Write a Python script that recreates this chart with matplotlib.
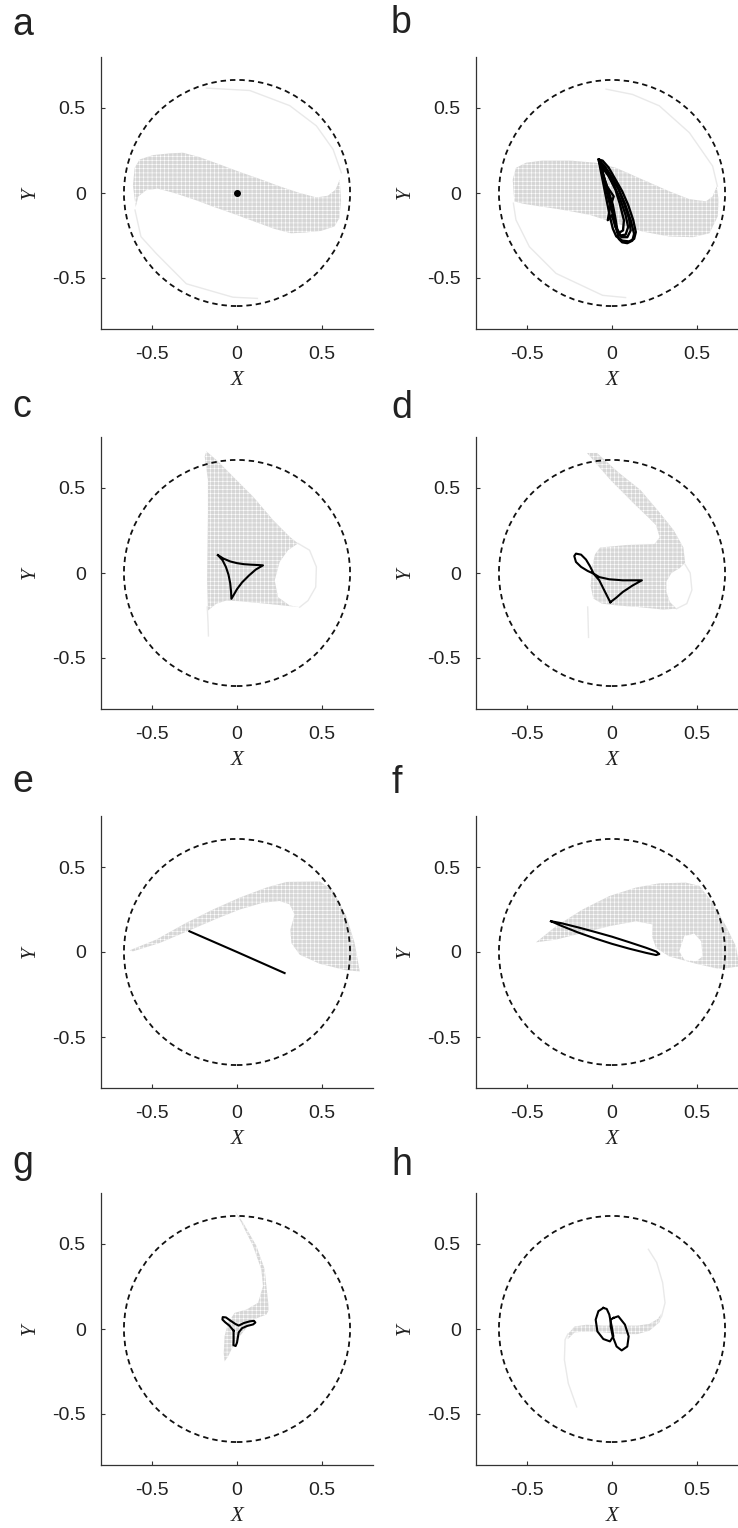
import matplotlib.pyplot as plt
from matplotlib.patches import Circle

plt.rcParams['font.family'] = 'Liberation Sans'
plt.rcParams['axes.unicode_minus'] = False
plt.rcParams['hatch.linewidth'] = 0.4

figsize = (7.38, 15.28)
dpi = 100

GRAY = '#d6d6d6'
FAINT = '#e9e9e9'
TEXT = '#222222'

# common axis settings
lims = (-0.8, 0.8)
tick_vals = [-0.5, 0, 0.5]
tick_labels = ['-0.5', '0', '0.5']
circle_r = 0.665

# ---- panel a: S-shaped basin, fixed point at origin
a_region_x = [-0.596, -0.612, -0.602, -0.573, -0.494, -0.396, -0.318, -0.22, -0.102, 0.016, 0.133, 0.251,
              0.369, 0.467, 0.535, 0.580, 0.604, 0.612, 0.602, 0.573, 0.494, 0.396, 0.318, 0.22, 0.102,
              -0.016, -0.133, -0.251, -0.369, -0.467, -0.535, -0.580]
a_region_y = [-0.083, 0.045, 0.148, 0.197, 0.223, 0.233, 0.237, 0.211, 0.168, 0.124, 0.083, 0.039,
              0.0, -0.026, -0.016, 0.020, 0.079, -0.045, -0.148, -0.197, -0.223, -0.233, -0.237, -0.211, -0.168,
              -0.124, -0.083, -0.039, 0.0, 0.026, 0.016, -0.020]
a_arc1_x = [-0.18, 0.075, 0.31, 0.467, 0.565, 0.614]
a_arc1_y = [0.617, 0.603, 0.514, 0.395, 0.257, 0.119]
a_arc2_x = [-0.60, -0.565, -0.475, -0.298, -0.024, 0.12]
a_arc2_y = [-0.10, -0.257, -0.356, -0.534, -0.613, -0.62]
a_point_x = [0.0]
a_point_y = [0.0]

# ---- panel b: S-shaped basin, chaotic attractor
b_region_x = [-0.575, -0.584, -0.565, -0.506, -0.408, -0.251, -0.094, 0.024, 0.18, 0.337, 0.455, 0.553, 0.592,
              0.616, 0.627, 0.622, 0.573, 0.475, 0.337, 0.18, 0.024, -0.133, -0.29, -0.447, -0.525]
b_region_y = [-0.049, 0.079, 0.148, 0.178, 0.191, 0.191, 0.178, 0.148, 0.079, 0.01, -0.036, -0.049, -0.02,
              0.039, -0.039, -0.138, -0.237, -0.26, -0.256, -0.227, -0.178, -0.128, -0.099, -0.075, -0.063]
b_arc1_x = [-0.035, 0.12, 0.278, 0.455, 0.592, 0.62]
b_arc1_y = [0.611, 0.58, 0.513, 0.355, 0.158, 0.04]
b_arc2_x = [-0.58, -0.565, -0.486, -0.329, -0.055, 0.08]
b_arc2_y = [-0.06, -0.158, -0.316, -0.473, -0.602, -0.615]
b_loop1_x = [-0.078, -0.055, -0.02, 0.02, 0.06, 0.095, 0.125, 0.14, 0.13, 0.1, 0.06, 0.025, 0.005, -0.012, -0.03,
             -0.05, -0.068, -0.078]
b_loop1_y = [0.197, 0.19, 0.15, 0.08, 0.01, -0.07, -0.16, -0.23, -0.27, -0.285, -0.28, -0.255, -0.21, -0.14, -0.05,
             0.05, 0.14, 0.197]
b_loop2_x = [-0.075, -0.04, 0.0, 0.04, 0.07, 0.1, 0.11, 0.09, 0.055, 0.03, 0.015, 0.0, -0.025, -0.045, -0.065, -0.075]
b_loop2_y = [0.185, 0.15, 0.09, 0.02, -0.06, -0.15, -0.22, -0.26, -0.26, -0.23, -0.17, -0.09, 0.0, 0.08, 0.15, 0.185]
b_loop3_x = [-0.07, -0.03, 0.01, 0.05, 0.08, 0.095, 0.08, 0.05, 0.03, 0.02, 0.005, -0.02, -0.04, -0.055, -0.07]
b_loop3_y = [0.17, 0.12, 0.05, -0.04, -0.13, -0.2, -0.245, -0.25, -0.21, -0.15, -0.07, 0.01, 0.07, 0.12, 0.17]
b_loop4_x = [-0.065, -0.02, 0.02, 0.045, 0.07, 0.065, 0.04, 0.02, 0.0, -0.025, -0.01, 0.01, -0.03, -0.05, -0.065]
b_loop4_y = [0.16, 0.1, 0.02, -0.06, -0.16, -0.22, -0.235, -0.2, -0.13, -0.16, -0.08, -0.02, 0.04, 0.1, 0.16]
b_loop5_x = [-0.072, -0.045, -0.005, 0.035, 0.075, 0.11, 0.13, 0.12, 0.09, 0.06, 0.04, 0.03, 0.01, -0.02, -0.045,
             -0.072]
b_loop5_y = [0.19, 0.16, 0.1, 0.03, -0.06, -0.16, -0.24, -0.28, -0.295, -0.29, -0.27, -0.22, -0.14, -0.04, 0.07,
             0.19]

# ---- panel c: fan-shaped basin, deltoid orbit
c_region_x = [-0.18, -0.112, -0.024, 0.094, 0.212, 0.31, 0.359, 0.3, 0.251, 0.222, 0.241, 0.31, 0.369, 0.173,
              0.016, -0.063, -0.122, -0.171, -0.176, -0.171, -0.171, -0.19]
c_region_y = [0.716, 0.657, 0.568, 0.45, 0.312, 0.213, 0.174, 0.134, 0.065, -0.043, -0.142, -0.191, -0.201, -0.181,
              -0.166, -0.162, -0.181, -0.221, -0.043, 0.351, 0.548, 0.686]
c_rim_x = [0.359, 0.427, 0.467, 0.463, 0.418, 0.369]
c_rim_y = [0.174, 0.134, 0.036, -0.083, -0.162, -0.201]
c_stub_x = [-0.175, -0.17, -0.168]
c_stub_y = [-0.2, -0.3, -0.37]
c_orbit_x = [-0.112, -0.08, -0.04, 0.0, 0.04, 0.08, 0.12, 0.153, 0.11, 0.07, 0.03, 0.0, -0.02, -0.033,
             -0.035, -0.04, -0.05, -0.065, -0.085, -0.112]
c_orbit_y = [0.105, 0.085, 0.068, 0.058, 0.052, 0.049, 0.047, 0.045, 0.02, -0.015, -0.055, -0.095, -0.13, -0.152,
             -0.11, -0.06, -0.01, 0.035, 0.075, 0.105]

# ---- panel d: band + body basin, looped orbit
d_region_x = [-0.147, -0.088, 0.04, 0.167, 0.284, 0.363, 0.42, 0.43, 0.40, 0.35, 0.32, 0.32, 0.34, 0.38, 0.30,
              0.15, 0.02, -0.06, -0.11, -0.125, -0.12, -0.10, -0.07, 0.09, 0.25, 0.28, 0.26, 0.21, 0.127, -0.01]
d_region_y = [0.706, 0.706, 0.59, 0.489, 0.351, 0.252, 0.15, 0.06, 0.03, 0.0, -0.05, -0.11, -0.17, -0.21, -0.215,
              -0.20, -0.19, -0.18, -0.15, -0.08, 0.02, 0.11, 0.15, 0.165, 0.17, 0.21, 0.28, 0.33, 0.41, 0.548]
d_rim_x = [0.43, 0.46, 0.47, 0.44, 0.38]
d_rim_y = [0.05, 0.0, -0.1, -0.18, -0.21]
d_stub_x = [-0.143, -0.14, -0.138]
d_stub_y = [-0.2, -0.3, -0.379]
d_orbit_x = [-0.01, -0.045, -0.075, -0.108, -0.143, -0.182, -0.212, -0.222, -0.212, -0.182, -0.153, -0.129,
             -0.108, -0.075, -0.016, 0.063, 0.176, 0.122, 0.063, 0.024, -0.01]
d_orbit_y = [-0.172, -0.103, -0.043, -0.004, 0.012, 0.036, 0.065, 0.1, 0.114, 0.108, 0.079, 0.039,
             -0.004, -0.024, -0.037, -0.043, -0.043, -0.073, -0.112, -0.146, -0.172]

# ---- panel e: wing-shaped basin, straight line orbit
e_region_x = [-0.631, -0.475, -0.298, -0.141, 0.016, 0.173, 0.29, 0.486, 0.565, 0.643, 0.692, 0.722, 0.643,
              0.486, 0.369, 0.32, 0.314, 0.339, 0.31, 0.251, 0.153, 0.016, -0.122, -0.278, -0.455, -0.612]
e_region_y = [0.01, 0.073, 0.172, 0.25, 0.32, 0.379, 0.412, 0.416, 0.359, 0.211, 0.053, -0.114, -0.108,
              -0.069, -0.016, 0.053, 0.132, 0.221, 0.28, 0.3, 0.29, 0.25, 0.195, 0.128, 0.053, 0.004]
e_orbit_x = [-0.28, 0.0, 0.28]
e_orbit_y = [0.122, 0.0, -0.124]

# ---- panel f: wing-shaped basin with hole, thin ellipse orbit
f_region_x = [-0.447, -0.329, -0.173, -0.016, 0.141, 0.278, 0.435, 0.514, 0.592, 0.671, 0.729, 0.749, 0.631,
              0.494, 0.337, 0.259, 0.235, 0.239, 0.141, -0.016, -0.173, -0.329]
f_region_y = [0.057, 0.152, 0.25, 0.329, 0.379, 0.404, 0.408, 0.389, 0.29, 0.152, 0.034, -0.085, -0.1,
              -0.069, -0.026, 0.024, 0.093, 0.162, 0.181, 0.152, 0.112, 0.073]
f_hole_x = [0.396, 0.425, 0.484, 0.524, 0.533, 0.494, 0.425]
f_hole_y = [0.004, 0.093, 0.108, 0.063, -0.026, -0.055, -0.045]
f_orbit_x = [-0.359, -0.3, -0.2, -0.1, 0.0, 0.1, 0.2, 0.26, 0.278, 0.26, 0.2, 0.1, 0.0, -0.1, -0.2, -0.3, -0.359]
f_orbit_y = [0.181, 0.17, 0.145, 0.118, 0.09, 0.058, 0.025, 0.003, -0.012, -0.018, -0.005, 0.02, 0.048, 0.08,
             0.115, 0.155, 0.181]

# ---- panel g: thin hooked basin, trefoil orbit
g_region_x = [-0.014, 0.035, 0.114, 0.163, 0.173, 0.188, 0.173, 0.094, 0.016, -0.024, -0.053, -0.073, -0.078,
              -0.073, -0.053, -0.014, 0.055, 0.124, 0.153, 0.143, 0.094, 0.025]
g_region_y = [0.696, 0.627, 0.489, 0.351, 0.252, 0.114, 0.085, 0.055, -0.043, -0.103, -0.162, -0.191, -0.142,
              -0.043, 0.036, 0.095, 0.114, 0.154, 0.252, 0.351, 0.489, 0.627]
g_orbit_x = [-0.02, -0.045, -0.07, -0.086, -0.084, -0.065, -0.04, -0.01, 0.01, 0.04, 0.075, 0.1, 0.108, 0.095,
             0.06, 0.03, 0.01, 0.005, 0.0, -0.008, -0.021, -0.02, -0.02, -0.02]
g_orbit_y = [-0.01, 0.02, 0.04, 0.056, 0.07, 0.068, 0.05, 0.03, 0.02, 0.035, 0.045, 0.048, 0.038, 0.027,
             0.018, 0.005, -0.02, -0.05, -0.08, -0.1, -0.095, -0.065, -0.035, -0.01]

# ---- panel h: thin S basin, double-loop orbit
h_region_x = [-0.26, -0.22, -0.15, -0.05, 0.05, 0.15, 0.22, 0.27, 0.29, 0.28, 0.22, 0.15, 0.05, -0.05, -0.15,
              -0.22, -0.26]
h_region_y = [-0.03, 0.015, 0.025, 0.02, 0.02, 0.02, 0.03, 0.06, 0.09, 0.04, -0.01, -0.03, -0.03, -0.02, -0.015,
              -0.02, -0.06]
h_arm1_x = [0.214, 0.263, 0.298, 0.312, 0.292, 0.27]
h_arm1_y = [0.469, 0.391, 0.272, 0.154, 0.075, 0.04]
h_arm2_x = [-0.26, -0.276, -0.28, -0.257, -0.208]
h_arm2_y = [-0.03, -0.063, -0.181, -0.32, -0.458]
h_loop1_x = [-0.051, -0.08, -0.096, -0.086, -0.051, -0.012, 0.008, -0.002, -0.016, -0.031, -0.051]
h_loop1_y = [0.124, 0.105, 0.055, -0.014, -0.059, -0.073, -0.043, 0.016, 0.085, 0.118, 0.124]
h_loop2_x = [0.008, 0.037, 0.076, 0.098, 0.09, 0.057, 0.027, 0.004, -0.008, -0.008, 0.008]
h_loop2_y = [0.065, 0.075, 0.026, -0.043, -0.103, -0.126, -0.103, -0.043, 0.016, 0.055, 0.065]

panels = [
    ('a', [(a_region_x, a_region_y)], [], [(a_arc1_x, a_arc1_y), (a_arc2_x, a_arc2_y)], []),
    ('b', [(b_region_x, b_region_y)], [], [(b_arc1_x, b_arc1_y), (b_arc2_x, b_arc2_y)],
     [(b_loop1_x, b_loop1_y), (b_loop2_x, b_loop2_y), (b_loop3_x, b_loop3_y), (b_loop4_x, b_loop4_y),
      (b_loop5_x, b_loop5_y)]),
    ('c', [(c_region_x, c_region_y)], [], [(c_rim_x, c_rim_y), (c_stub_x, c_stub_y)], [(c_orbit_x, c_orbit_y)]),
    ('d', [(d_region_x, d_region_y)], [], [(d_rim_x, d_rim_y), (d_stub_x, d_stub_y)], [(d_orbit_x, d_orbit_y)]),
    ('e', [(e_region_x, e_region_y)], [], [], [(e_orbit_x, e_orbit_y)]),
    ('f', [(f_region_x, f_region_y)], [(f_hole_x, f_hole_y)], [], [(f_orbit_x, f_orbit_y)]),
    ('g', [(g_region_x, g_region_y)], [], [], [(g_orbit_x, g_orbit_y)]),
    ('h', [(h_region_x, h_region_y)], [], [(h_arm1_x, h_arm1_y), (h_arm2_x, h_arm2_y)],
     [(h_loop1_x, h_loop1_y), (h_loop2_x, h_loop2_y)]),
]

fig = plt.figure(figsize=figsize, dpi=dpi)
W, H = 738, 1528
col_left = [101, 476]
row_bottom = [329, 709, 1088, 1465]
ax_size = 272
label_pos = [(12, [35, 417, 792, 1173]), (391, [33, 418, 793, 1175])]

for i, (letter, regions, holes, faint, orbits) in enumerate(panels):
    row, col = divmod(i, 2)
    ax = fig.add_axes([col_left[col] / W, 1 - row_bottom[row] / H, ax_size / W, ax_size / H])

    for rx, ry in regions:
        ax.fill(rx, ry, facecolor=GRAY, edgecolor='white', hatch='++++', linewidth=0, zorder=1)
    for hx, hy in holes:
        ax.fill(hx, hy, facecolor='white', linewidth=0, zorder=2)
    for fx, fy in faint:
        ax.plot(fx, fy, color=FAINT, lw=1.0, zorder=2)

    ax.add_patch(Circle((0, 0), circle_r, fill=False, edgecolor='#111111', lw=1.3,
                        linestyle=(0, (3, 2.2)), zorder=3))

    lw_orbit = 1.7 if letter == 'b' else 1.5
    for ox, oy in orbits:
        ax.plot(ox, oy, color='black', lw=lw_orbit, solid_joinstyle='round', zorder=4)
    if letter == 'a':
        ax.plot(a_point_x, a_point_y, 'o', color='black', ms=4, zorder=4)

    ax.set_xlim(lims)
    ax.set_ylim(lims)
    ax.set_xticks(tick_vals)
    ax.set_xticklabels(tick_labels)
    ax.set_yticks(tick_vals)
    ax.set_yticklabels(tick_labels)
    ax.tick_params(direction='in', length=3, width=0.8, labelsize=14, colors='#333333',
                   labelcolor=TEXT)
    ax.tick_params(axis='x', pad=12)
    ax.tick_params(axis='y', pad=11)
    for side in ['top', 'right']:
        ax.spines[side].set_visible(False)
    for side in ['left', 'bottom']:
        ax.spines[side].set_linewidth(0.9)
        ax.spines[side].set_color('#333333')
    ax.set_xlabel('X', fontfamily='Liberation Serif', style='italic', fontsize=15, color=TEXT, labelpad=6)
    ax.set_ylabel('Y', fontfamily='Liberation Serif', style='italic', fontsize=15, color=TEXT, labelpad=9)

    lx, lys = label_pos[col]
    fig.text(lx / W, 1 - lys[row] / H, letter, fontsize=27, color=TEXT, ha='left', va='baseline')

fig.savefig('out.png', dpi=dpi)
